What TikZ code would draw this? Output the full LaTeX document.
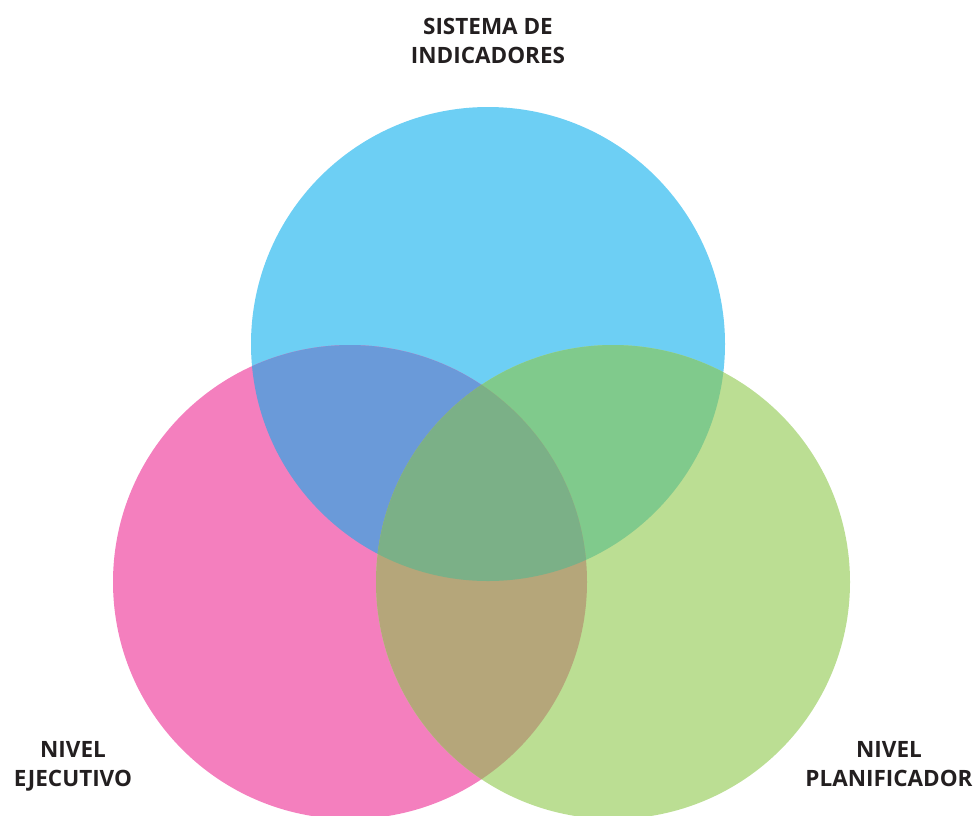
\documentclass[tikz,border=0pt]{standalone}
\usepackage{fontspec}
\setmainfont{Open Sans}[BoldFont={* Bold}]
\definecolor{cblue}{RGB}{109,207,244}
\definecolor{cpink}{RGB}{244,127,190}
\definecolor{cgreen}{RGB}{187,222,147}
\definecolor{cbp}{RGB}{106,154,217}
\definecolor{cbg}{RGB}{128,202,140}
\definecolor{cpg}{RGB}{181,166,122}
\definecolor{call}{RGB}{123,176,135}
\definecolor{ctext}{RGB}{35,31,32}
\begin{document}
\begin{tikzpicture}[x=1pt,y=-1pt,
  lbl/.style={inner sep=0pt,font=\fontsize{22.5}{29}\selectfont\bfseries,text=ctext,anchor=base,align=center}]
\useasboundingbox (0,0) rectangle (975,815);
\clip (0,0) rectangle (975,815);
\def\R{237}
\coordinate (B) at (488,344);
\coordinate (P) at (350,582);
\coordinate (G) at (613,582);
\fill[cblue] (B) circle[radius=\R];
\fill[cpink] (P) circle[radius=\R];
\fill[cgreen] (G) circle[radius=\R];
\begin{scope}
  \clip (B) circle[radius=\R];
  \fill[cbp] (P) circle[radius=\R];
  \fill[cbg] (G) circle[radius=\R];
\end{scope}
\begin{scope}
  \clip (P) circle[radius=\R];
  \fill[cpg] (G) circle[radius=\R];
  \clip (G) circle[radius=\R];
  \fill[call] (B) circle[radius=\R];
\end{scope}
\node[lbl] (si) at (488,63) {SISTEMA DE\\INDICADORES};
\node[lbl] (ne) at (73,786) {NIVEL\\EJECUTIVO};
\node[lbl] (np) at (889,786) {NIVEL\\PLANIFICADOR};
\end{tikzpicture}
\end{document}
